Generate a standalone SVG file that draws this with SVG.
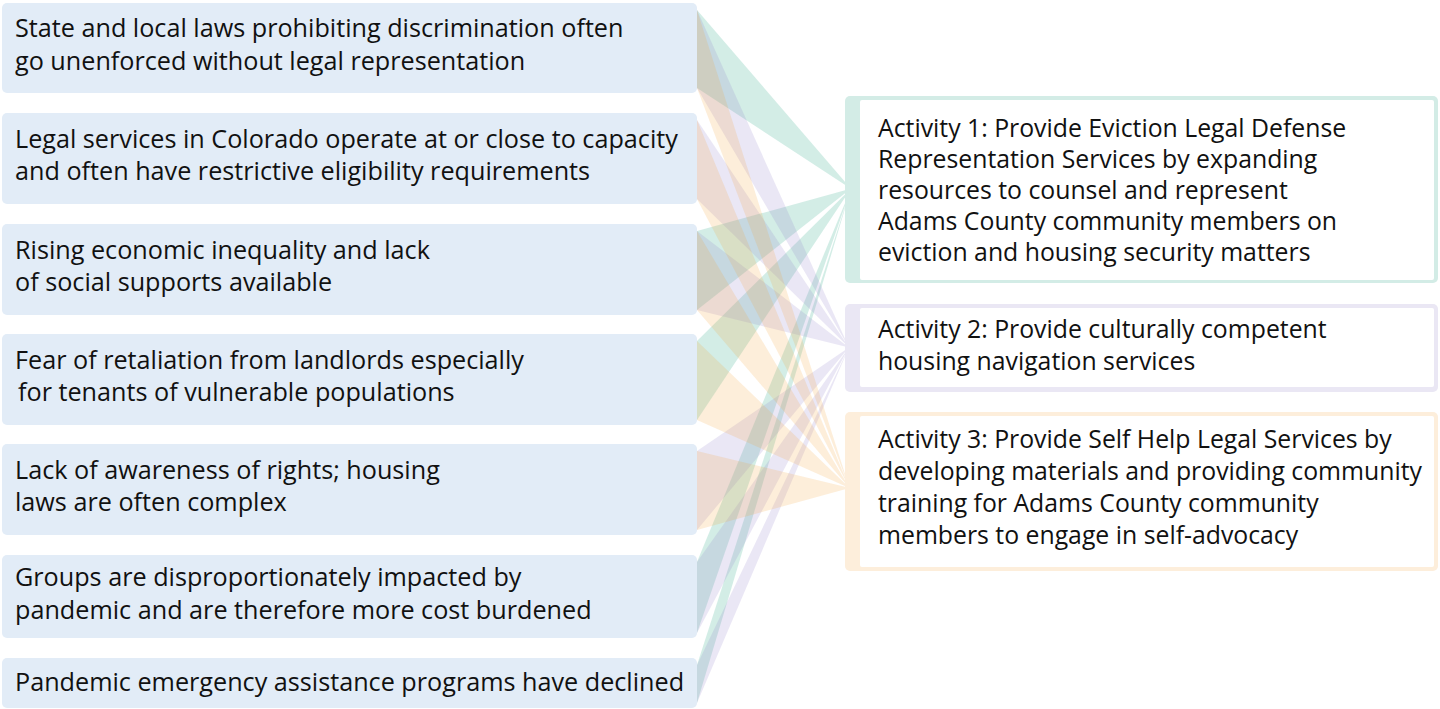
<svg xmlns="http://www.w3.org/2000/svg" width="1440" height="709" viewBox="0 0 1440 709">
<style>
.lbox{fill:#E2ECF7}
.ltxt{font-family:"Open Sans","Liberation Sans",sans-serif;font-size:25.2px;fill:#111}
.rtxt{font-family:"Open Sans","Liberation Sans",sans-serif;font-size:24.8px;fill:#111}
.inner{fill:#FFFFFF}
.w1{fill:rgb(47,168,138);fill-opacity:0.21}
.w2{fill:rgb(143,130,200);fill-opacity:0.19}
.w3{fill:rgb(245,165,58);fill-opacity:0.19}
</style>
<rect width="1440" height="709" fill="#FFFFFF"/>
<g id="connectors">
<polygon class="w1" points="697,10 846,183 846,185.5 697,88"/>
<polygon class="w1" points="697,231 846,190.1 846,192.6 697,310"/>
<polygon class="w1" points="697,341 846,193.6 846,196.1 697,420"/>
<polygon class="w1" points="697,562 846,200.7 846,202.9 697,633"/>
<polygon class="w1" points="697,665 846,204 846,205.2 697,703"/>
<polygon class="w2" points="697,10 846,341 846,342.5 697,88"/>
<polygon class="w2" points="697,120 846,343.1 846,344.6 697,199"/>
<polygon class="w2" points="697,231 846,345.2 846,346.7 697,310"/>
<polygon class="w2" points="697,451 846,349.4 846,350.9 697,530"/>
<polygon class="w2" points="697,562 846,351.5 846,352.8 697,633"/>
<polygon class="w2" points="697,665 846,353.4 846,354.2 697,703"/>
<polygon class="w3" points="697,10 846,477 846,478.8 697,88"/>
<polygon class="w3" points="697,120 846,479.5 846,481.3 697,199"/>
<polygon class="w3" points="697,231 846,482.1 846,483.9 697,310"/>
<polygon class="w3" points="697,341 846,484.6 846,486.4 697,420"/>
<polygon class="w3" points="697,451 846,487.1 846,489 697,530"/>
</g>
<g id="cond1"><rect class="lbox" x="2" y="3" width="695" height="90" rx="5"/>
<text class="ltxt" x="15" y="37">State and local laws prohibiting discrimination often</text>
<text class="ltxt" x="15" y="69.5">go unenforced without legal representation</text></g>
<g id="cond2"><rect class="lbox" x="2" y="113" width="695" height="91" rx="5"/>
<text class="ltxt" x="15" y="147.5">Legal services in Colorado operate at or close to capacity</text>
<text class="ltxt" x="15" y="180">and often have restrictive eligibility requirements</text></g>
<g id="cond3"><rect class="lbox" x="2" y="224" width="695" height="91" rx="5"/>
<text class="ltxt" x="15" y="258.5">Rising economic inequality and lack</text>
<text class="ltxt" x="15" y="291">of social supports available</text></g>
<g id="cond4"><rect class="lbox" x="2" y="334" width="695" height="91" rx="5"/>
<text class="ltxt" x="15" y="368.5">Fear of retaliation from landlords especially</text>
<text class="ltxt" x="18" y="401">for tenants of vulnerable populations</text></g>
<g id="cond5"><rect class="lbox" x="2" y="444" width="695" height="91" rx="5"/>
<text class="ltxt" x="15" y="478.5">Lack of awareness of rights; housing</text>
<text class="ltxt" x="15" y="511">laws are often complex</text></g>
<g id="cond6"><rect class="lbox" x="2" y="555" width="695" height="83" rx="5"/>
<text class="ltxt" x="15" y="586">Groups are disproportionately impacted by</text>
<text class="ltxt" x="15" y="618.5">pandemic and are therefore more cost burdened</text></g>
<g id="cond7"><rect class="lbox" x="2" y="658" width="695" height="50" rx="5"/>
<text class="ltxt" x="15" y="691">Pandemic emergency assistance programs have declined</text></g>
<g id="act1"><rect x="845" y="96" width="593" height="187" rx="5" fill="#D3ECE6"/>
<rect class="inner" x="860" y="100" width="574" height="180" rx="2"/>
<text class="rtxt" x="878" y="137">Activity 1: Provide Eviction Legal Defense</text>
<text class="rtxt" x="878" y="168">Representation Services by expanding</text>
<text class="rtxt" x="878" y="199">resources to counsel and represent</text>
<text class="rtxt" x="878" y="230">Adams County community members on</text>
<text class="rtxt" x="878" y="261">eviction and housing security matters</text></g>
<g id="act2"><rect x="845" y="304" width="593" height="88" rx="5" fill="#EAE7F4"/>
<rect class="inner" x="860" y="308" width="574" height="79" rx="2"/>
<text class="rtxt" x="878" y="338">Activity 2: Provide culturally competent</text>
<text class="rtxt" x="878" y="370">housing navigation services</text></g>
<g id="act3"><rect x="845" y="412" width="593" height="159" rx="5" fill="#FDEEDB"/>
<rect class="inner" x="860" y="416" width="574" height="151" rx="2"/>
<text class="rtxt" x="878" y="448">Activity 3: Provide Self Help Legal Services by</text>
<text class="rtxt" x="878" y="480">developing materials and providing community</text>
<text class="rtxt" x="878" y="512">training for Adams County community</text>
<text class="rtxt" x="878" y="544">members to engage in self-advocacy</text></g>
</svg>
